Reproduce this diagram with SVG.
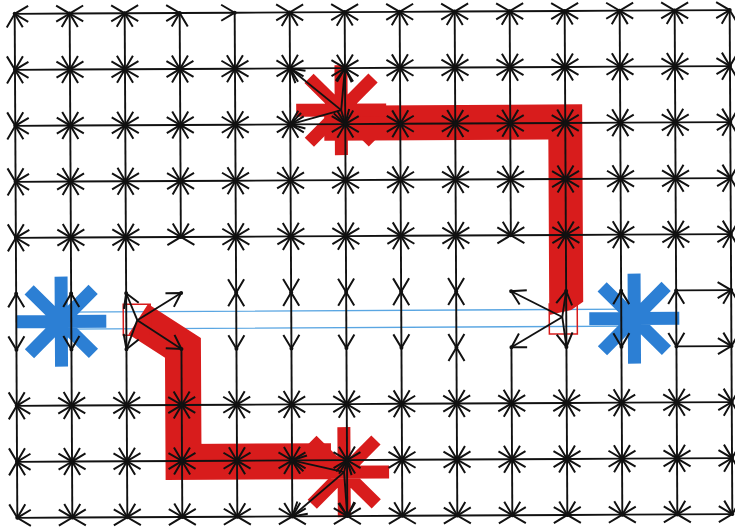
<svg xmlns="http://www.w3.org/2000/svg" width="735" height="529" viewBox="0 0 735 529">
<style>
.g path{fill:none;stroke:#111;stroke-width:1.9}
.b{marker-start:url(#ah);marker-end:url(#ah)}
.e{marker-end:url(#ah)}
.s{marker-start:url(#ah)}
.red{stroke:#d81c1c}
.blue{stroke:#2c7fd4}
.bl{stroke:#5aa6e2;stroke-width:1.4;fill:none}
.pt{fill:#111}
</style>
<defs>
<marker id="ah" markerUnits="userSpaceOnUse" markerWidth="32" markerHeight="32" viewBox="-16 -16 32 32" refX="0" refY="0" orient="auto-start-reverse" overflow="visible"><path d="M-13.5,-8L0,0L-13.5,8" fill="none" stroke="#111" stroke-width="2"/></marker>
<path id="ast" d="M-45,0H45M0,-45V45M-32,-32L32,32M-32,32L32,-32" fill="none" stroke-width="13"/>
<circle id="pt" r="2" class="pt"/>
</defs>
<rect width="735" height="529" fill="#fff"/>
<g transform="rotate(-0.3 367 264)">
<g id="blue-link"><path class="bl" d="M61 310.5H634M61 327.5H634"/></g>
<g id="blue-start"><use href="#ast" class="blue" x="61" y="320"/></g>
<g id="blue-end"><use href="#ast" class="blue" x="634" y="320"/></g>
<g id="route">
<polygon points="325,105.5 583,105.5 583,303 571,311 549,316 549,140.5 325,140.5" fill="#d81c1c"/>
<polyline points="138,318 182.5,347 182.5,461 330,461" fill="none" stroke="#d81c1c" stroke-width="36" stroke-linejoin="miter"/>
</g>
<g id="red-top"><use href="#ast" class="red" x="342" y="110"/></g>
<g id="red-bottom"><use href="#ast" class="red" x="343" y="472"/></g>
<g id="sq-left"><rect x="123" y="303" width="27" height="31" fill="none" stroke="#d81c1c" stroke-width="1.5"/></g>
<g id="sq-right"><rect x="549" y="305" width="28" height="30" fill="none" stroke="#d81c1c" stroke-width="1.5"/></g>
<g id="connectors" class="g">
<path class="b" d="M16 12H71"/><path class="b" d="M71 12H126"/><path class="b" d="M126 12H181"/><path class="e" d="M181 12H236"/><path class="e" d="M236 12H291"/><path class="b" d="M291 12H346"/><path class="b" d="M346 12H401"/><path class="b" d="M401 12H456"/><path class="b" d="M456 12H511"/><path class="b" d="M511 12H566"/><path class="b" d="M566 12H621"/><path class="b" d="M621 12H676"/><path class="b" d="M676 12H731"/>
<path class="b" d="M16 68H71"/><path class="b" d="M71 68H126"/><path class="b" d="M126 68H181"/><path class="b" d="M181 68H236"/><path class="b" d="M236 68H291"/><path class="b" d="M291 68H346"/><path class="b" d="M346 68H401"/><path class="b" d="M401 68H456"/><path class="b" d="M456 68H511"/><path class="b" d="M511 68H566"/><path class="b" d="M566 68H621"/><path class="b" d="M621 68H676"/><path class="b" d="M676 68H731"/>
<path class="b" d="M16 124H71"/><path class="b" d="M71 124H126"/><path class="b" d="M126 124H181"/><path class="b" d="M181 124H236"/><path class="b" d="M236 124H291"/><path class="b" d="M291 124H346"/><path class="b" d="M346 124H401"/><path class="b" d="M401 124H456"/><path class="b" d="M456 124H511"/><path class="b" d="M511 124H566"/><path class="b" d="M566 124H621"/><path class="b" d="M621 124H676"/><path class="b" d="M676 124H731"/>
<path class="b" d="M16 180H71"/><path class="b" d="M71 180H126"/><path class="b" d="M126 180H181"/><path class="b" d="M181 180H236"/><path class="b" d="M236 180H291"/><path class="b" d="M291 180H346"/><path class="b" d="M346 180H401"/><path class="b" d="M401 180H456"/><path class="b" d="M456 180H511"/><path class="b" d="M511 180H566"/><path class="b" d="M566 180H621"/><path class="b" d="M621 180H676"/><path class="b" d="M676 180H731"/>
<path class="b" d="M16 236H71"/><path class="b" d="M71 236H126"/><path class="b" d="M126 236H181"/><path class="b" d="M181 236H236"/><path class="b" d="M236 236H291"/><path class="b" d="M291 236H346"/><path class="b" d="M346 236H401"/><path class="b" d="M401 236H456"/><path class="b" d="M456 236H511"/><path class="b" d="M511 236H566"/><path class="b" d="M566 236H621"/><path class="b" d="M621 236H676"/><path class="b" d="M676 236H731"/>
<path class="e" d="M676 292H731"/><path class="e" d="M676 348H731"/>
<path class="b" d="M16 404H71"/><path class="b" d="M71 404H126"/><path class="b" d="M126 404H181"/><path class="b" d="M181 404H236"/><path class="b" d="M236 404H291"/><path class="b" d="M291 404H346"/><path class="b" d="M346 404H401"/><path class="b" d="M401 404H456"/><path class="b" d="M456 404H511"/><path class="b" d="M511 404H566"/><path class="b" d="M566 404H621"/><path class="b" d="M621 404H676"/><path class="b" d="M676 404H731"/>
<path class="b" d="M16 460H71"/><path class="b" d="M71 460H126"/><path class="b" d="M126 460H181"/><path class="b" d="M181 460H236"/><path class="b" d="M236 460H291"/><path class="b" d="M291 460H346"/><path class="b" d="M346 460H401"/><path class="b" d="M401 460H456"/><path class="b" d="M456 460H511"/><path class="b" d="M511 460H566"/><path class="b" d="M566 460H621"/><path class="b" d="M621 460H676"/><path class="b" d="M676 460H731"/>
<path class="b" d="M16 516H71"/><path class="b" d="M71 516H126"/><path class="b" d="M126 516H181"/><path class="b" d="M181 516H236"/><path class="b" d="M236 516H291"/><path class="b" d="M291 516H346"/><path class="b" d="M346 516H401"/><path class="b" d="M401 516H456"/><path class="b" d="M456 516H511"/><path class="b" d="M511 516H566"/><path class="b" d="M566 516H621"/><path class="b" d="M621 516H676"/><path class="b" d="M676 516H731"/>
<path class="b" d="M16 12V68"/><path class="b" d="M16 68V124"/><path class="b" d="M16 124V180"/><path class="b" d="M16 180V236"/><path class="s" d="M16 236V292"/><path class="b" d="M16 292V348"/><path class="e" d="M16 348V404"/><path class="b" d="M16 404V460"/><path class="b" d="M16 460V516"/>
<path class="b" d="M71 12V68"/><path class="b" d="M71 68V124"/><path class="b" d="M71 124V180"/><path class="b" d="M71 180V236"/><path class="s" d="M71 236V292"/><path class="b" d="M71 292V348"/><path class="e" d="M71 348V404"/><path class="b" d="M71 404V460"/><path class="b" d="M71 460V516"/>
<path class="b" d="M126 12V68"/><path class="b" d="M126 68V124"/><path class="b" d="M126 124V180"/><path class="b" d="M126 180V236"/><path class="s" d="M126 236V292"/><path d="M126 292V348"/><path class="e" d="M126 348V404"/><path class="b" d="M126 404V460"/><path class="b" d="M126 460V516"/>
<path class="b" d="M181 12V68"/><path class="b" d="M181 68V124"/><path class="b" d="M181 124V180"/><path class="b" d="M181 180V236"/><path class="e" d="M181 348V404"/><path class="b" d="M181 404V460"/><path class="b" d="M181 460V516"/>
<path class="e" d="M236 12V68"/><path class="b" d="M236 68V124"/><path class="b" d="M236 124V180"/><path class="b" d="M236 180V236"/><path class="b" d="M236 236V292"/><path class="b" d="M236 292V348"/><path class="e" d="M236 348V404"/><path class="b" d="M236 404V460"/><path class="b" d="M236 460V516"/>
<path class="b" d="M291 12V68"/><path class="b" d="M291 68V124"/><path class="b" d="M291 124V180"/><path class="b" d="M291 180V236"/><path class="b" d="M291 236V292"/><path class="b" d="M291 292V348"/><path class="e" d="M291 348V404"/><path class="b" d="M291 404V460"/><path class="b" d="M291 460V516"/>
<path class="b" d="M346 12V68"/><path class="b" d="M346 68V124"/><path class="b" d="M346 124V180"/><path class="b" d="M346 180V236"/><path class="b" d="M346 236V292"/><path class="b" d="M346 292V348"/><path class="e" d="M346 348V404"/><path class="b" d="M346 404V460"/><path class="b" d="M346 460V516"/>
<path class="b" d="M401 12V68"/><path class="b" d="M401 68V124"/><path class="b" d="M401 124V180"/><path class="b" d="M401 180V236"/><path class="b" d="M401 236V292"/><path class="b" d="M401 292V348"/><path class="e" d="M401 348V404"/><path class="b" d="M401 404V460"/><path class="b" d="M401 460V516"/>
<path class="b" d="M456 12V68"/><path class="b" d="M456 68V124"/><path class="b" d="M456 124V180"/><path class="b" d="M456 180V236"/><path class="b" d="M456 236V292"/><path class="b" d="M456 292V348"/><path class="b" d="M456 348V404"/><path class="b" d="M456 404V460"/><path class="b" d="M456 460V516"/>
<path class="b" d="M511 12V68"/><path class="b" d="M511 68V124"/><path class="b" d="M511 124V180"/><path class="b" d="M511 180V236"/><path class="e" d="M511 348V404"/><path class="b" d="M511 404V460"/><path class="b" d="M511 460V516"/>
<path class="b" d="M566 12V68"/><path class="b" d="M566 68V124"/><path class="b" d="M566 124V180"/><path class="b" d="M566 180V236"/><path class="s" d="M566 236V292"/><path d="M566 292V348"/><path class="e" d="M566 348V404"/><path class="b" d="M566 404V460"/><path class="b" d="M566 460V516"/>
<path class="b" d="M621 12V68"/><path class="b" d="M621 68V124"/><path class="b" d="M621 124V180"/><path class="b" d="M621 180V236"/><path class="s" d="M621 236V292"/><path class="b" d="M621 292V348"/><path class="e" d="M621 348V404"/><path class="b" d="M621 404V460"/><path class="b" d="M621 460V516"/>
<path class="b" d="M676 12V68"/><path class="b" d="M676 68V124"/><path class="b" d="M676 124V180"/><path class="b" d="M676 180V236"/><path class="s" d="M676 236V292"/><path class="b" d="M676 292V348"/><path class="e" d="M676 348V404"/><path class="b" d="M676 404V460"/><path class="b" d="M676 460V516"/>
<path class="b" d="M731 12V68"/><path class="b" d="M731 68V124"/><path class="b" d="M731 124V180"/><path class="b" d="M731 180V236"/><path class="s" d="M731 236V292"/><path class="b" d="M731 292V348"/><path class="e" d="M731 348V404"/><path class="b" d="M731 404V460"/><path class="b" d="M731 460V516"/>
<path class="e" d="M342 110L291 68"/><path class="e" d="M342 110L346 68"/><path class="e" d="M342 110L291 124"/><path class="e" d="M342 110L346 124"/>
<path class="e" d="M343 472L291 460"/><path class="e" d="M343 472L346 460"/><path class="e" d="M343 472L291 516"/><path class="e" d="M343 472L346 516"/>
<path class="e" d="M137 319L126 292"/><path class="e" d="M137 319L181 292"/><path class="e" d="M137 319L126 348"/><path class="e" d="M137 319L181 348"/>
<path class="e" d="M562 318L511 292"/><path class="e" d="M562 318L566 292"/><path class="e" d="M562 318L511 348"/><path class="e" d="M562 318L566 348"/>
</g>
<g id="grid-nodes">
<g id="n0-0"><use href="#pt" x="16" y="12"/></g><g id="n0-1"><use href="#pt" x="71" y="12"/></g><g id="n0-2"><use href="#pt" x="126" y="12"/></g><g id="n0-3"><use href="#pt" x="181" y="12"/></g><g id="n0-4"><use href="#pt" x="236" y="12"/></g><g id="n0-5"><use href="#pt" x="291" y="12"/></g><g id="n0-6"><use href="#pt" x="346" y="12"/></g><g id="n0-7"><use href="#pt" x="401" y="12"/></g><g id="n0-8"><use href="#pt" x="456" y="12"/></g><g id="n0-9"><use href="#pt" x="511" y="12"/></g><g id="n0-10"><use href="#pt" x="566" y="12"/></g><g id="n0-11"><use href="#pt" x="621" y="12"/></g><g id="n0-12"><use href="#pt" x="676" y="12"/></g><g id="n0-13"><use href="#pt" x="731" y="12"/></g>
<g id="n1-0"><use href="#pt" x="16" y="68"/></g><g id="n1-1"><use href="#pt" x="71" y="68"/></g><g id="n1-2"><use href="#pt" x="126" y="68"/></g><g id="n1-3"><use href="#pt" x="181" y="68"/></g><g id="n1-4"><use href="#pt" x="236" y="68"/></g><g id="n1-5"><use href="#pt" x="291" y="68"/></g><g id="n1-6"><use href="#pt" x="346" y="68"/></g><g id="n1-7"><use href="#pt" x="401" y="68"/></g><g id="n1-8"><use href="#pt" x="456" y="68"/></g><g id="n1-9"><use href="#pt" x="511" y="68"/></g><g id="n1-10"><use href="#pt" x="566" y="68"/></g><g id="n1-11"><use href="#pt" x="621" y="68"/></g><g id="n1-12"><use href="#pt" x="676" y="68"/></g><g id="n1-13"><use href="#pt" x="731" y="68"/></g>
<g id="n2-0"><use href="#pt" x="16" y="124"/></g><g id="n2-1"><use href="#pt" x="71" y="124"/></g><g id="n2-2"><use href="#pt" x="126" y="124"/></g><g id="n2-3"><use href="#pt" x="181" y="124"/></g><g id="n2-4"><use href="#pt" x="236" y="124"/></g><g id="n2-5"><use href="#pt" x="291" y="124"/></g><g id="n2-6"><use href="#pt" x="346" y="124"/></g><g id="n2-7"><use href="#pt" x="401" y="124"/></g><g id="n2-8"><use href="#pt" x="456" y="124"/></g><g id="n2-9"><use href="#pt" x="511" y="124"/></g><g id="n2-10"><use href="#pt" x="566" y="124"/></g><g id="n2-11"><use href="#pt" x="621" y="124"/></g><g id="n2-12"><use href="#pt" x="676" y="124"/></g><g id="n2-13"><use href="#pt" x="731" y="124"/></g>
<g id="n3-0"><use href="#pt" x="16" y="180"/></g><g id="n3-1"><use href="#pt" x="71" y="180"/></g><g id="n3-2"><use href="#pt" x="126" y="180"/></g><g id="n3-3"><use href="#pt" x="181" y="180"/></g><g id="n3-4"><use href="#pt" x="236" y="180"/></g><g id="n3-5"><use href="#pt" x="291" y="180"/></g><g id="n3-6"><use href="#pt" x="346" y="180"/></g><g id="n3-7"><use href="#pt" x="401" y="180"/></g><g id="n3-8"><use href="#pt" x="456" y="180"/></g><g id="n3-9"><use href="#pt" x="511" y="180"/></g><g id="n3-10"><use href="#pt" x="566" y="180"/></g><g id="n3-11"><use href="#pt" x="621" y="180"/></g><g id="n3-12"><use href="#pt" x="676" y="180"/></g><g id="n3-13"><use href="#pt" x="731" y="180"/></g>
<g id="n4-0"><use href="#pt" x="16" y="236"/></g><g id="n4-1"><use href="#pt" x="71" y="236"/></g><g id="n4-2"><use href="#pt" x="126" y="236"/></g><g id="n4-3"><use href="#pt" x="181" y="236"/></g><g id="n4-4"><use href="#pt" x="236" y="236"/></g><g id="n4-5"><use href="#pt" x="291" y="236"/></g><g id="n4-6"><use href="#pt" x="346" y="236"/></g><g id="n4-7"><use href="#pt" x="401" y="236"/></g><g id="n4-8"><use href="#pt" x="456" y="236"/></g><g id="n4-9"><use href="#pt" x="511" y="236"/></g><g id="n4-10"><use href="#pt" x="566" y="236"/></g><g id="n4-11"><use href="#pt" x="621" y="236"/></g><g id="n4-12"><use href="#pt" x="676" y="236"/></g><g id="n4-13"><use href="#pt" x="731" y="236"/></g>
<g id="n5-0"><use href="#pt" x="16" y="292"/></g><g id="n5-1"><use href="#pt" x="71" y="292"/></g><g id="n5-2"><use href="#pt" x="126" y="292"/></g><g id="n5-3"><use href="#pt" x="181" y="292"/></g><g id="n5-4"><use href="#pt" x="236" y="292"/></g><g id="n5-5"><use href="#pt" x="291" y="292"/></g><g id="n5-6"><use href="#pt" x="346" y="292"/></g><g id="n5-7"><use href="#pt" x="401" y="292"/></g><g id="n5-8"><use href="#pt" x="456" y="292"/></g><g id="n5-9"><use href="#pt" x="511" y="292"/></g><g id="n5-10"><use href="#pt" x="566" y="292"/></g><g id="n5-11"><use href="#pt" x="621" y="292"/></g><g id="n5-12"><use href="#pt" x="676" y="292"/></g><g id="n5-13"><use href="#pt" x="731" y="292"/></g>
<g id="n6-0"><use href="#pt" x="16" y="348"/></g><g id="n6-1"><use href="#pt" x="71" y="348"/></g><g id="n6-2"><use href="#pt" x="126" y="348"/></g><g id="n6-3"><use href="#pt" x="181" y="348"/></g><g id="n6-4"><use href="#pt" x="236" y="348"/></g><g id="n6-5"><use href="#pt" x="291" y="348"/></g><g id="n6-6"><use href="#pt" x="346" y="348"/></g><g id="n6-7"><use href="#pt" x="401" y="348"/></g><g id="n6-8"><use href="#pt" x="456" y="348"/></g><g id="n6-9"><use href="#pt" x="511" y="348"/></g><g id="n6-10"><use href="#pt" x="566" y="348"/></g><g id="n6-11"><use href="#pt" x="621" y="348"/></g><g id="n6-12"><use href="#pt" x="676" y="348"/></g><g id="n6-13"><use href="#pt" x="731" y="348"/></g>
<g id="n7-0"><use href="#pt" x="16" y="404"/></g><g id="n7-1"><use href="#pt" x="71" y="404"/></g><g id="n7-2"><use href="#pt" x="126" y="404"/></g><g id="n7-3"><use href="#pt" x="181" y="404"/></g><g id="n7-4"><use href="#pt" x="236" y="404"/></g><g id="n7-5"><use href="#pt" x="291" y="404"/></g><g id="n7-6"><use href="#pt" x="346" y="404"/></g><g id="n7-7"><use href="#pt" x="401" y="404"/></g><g id="n7-8"><use href="#pt" x="456" y="404"/></g><g id="n7-9"><use href="#pt" x="511" y="404"/></g><g id="n7-10"><use href="#pt" x="566" y="404"/></g><g id="n7-11"><use href="#pt" x="621" y="404"/></g><g id="n7-12"><use href="#pt" x="676" y="404"/></g><g id="n7-13"><use href="#pt" x="731" y="404"/></g>
<g id="n8-0"><use href="#pt" x="16" y="460"/></g><g id="n8-1"><use href="#pt" x="71" y="460"/></g><g id="n8-2"><use href="#pt" x="126" y="460"/></g><g id="n8-3"><use href="#pt" x="181" y="460"/></g><g id="n8-4"><use href="#pt" x="236" y="460"/></g><g id="n8-5"><use href="#pt" x="291" y="460"/></g><g id="n8-6"><use href="#pt" x="346" y="460"/></g><g id="n8-7"><use href="#pt" x="401" y="460"/></g><g id="n8-8"><use href="#pt" x="456" y="460"/></g><g id="n8-9"><use href="#pt" x="511" y="460"/></g><g id="n8-10"><use href="#pt" x="566" y="460"/></g><g id="n8-11"><use href="#pt" x="621" y="460"/></g><g id="n8-12"><use href="#pt" x="676" y="460"/></g><g id="n8-13"><use href="#pt" x="731" y="460"/></g>
<g id="n9-0"><use href="#pt" x="16" y="516"/></g><g id="n9-1"><use href="#pt" x="71" y="516"/></g><g id="n9-2"><use href="#pt" x="126" y="516"/></g><g id="n9-3"><use href="#pt" x="181" y="516"/></g><g id="n9-4"><use href="#pt" x="236" y="516"/></g><g id="n9-5"><use href="#pt" x="291" y="516"/></g><g id="n9-6"><use href="#pt" x="346" y="516"/></g><g id="n9-7"><use href="#pt" x="401" y="516"/></g><g id="n9-8"><use href="#pt" x="456" y="516"/></g><g id="n9-9"><use href="#pt" x="511" y="516"/></g><g id="n9-10"><use href="#pt" x="566" y="516"/></g><g id="n9-11"><use href="#pt" x="621" y="516"/></g><g id="n9-12"><use href="#pt" x="676" y="516"/></g><g id="n9-13"><use href="#pt" x="731" y="516"/></g>
</g>
</g>
</svg>
